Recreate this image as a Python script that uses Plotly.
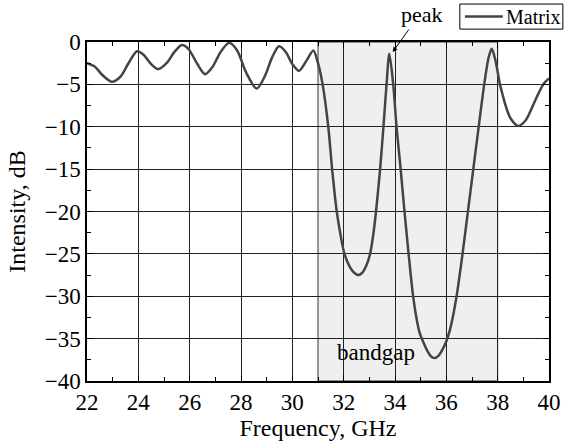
import plotly.graph_objects as go

freq = [22.0, 22.3, 22.6, 22.97, 23.3, 23.6, 23.95, 24.2, 24.5, 24.77, 25.1, 25.4, 25.69,
        25.95, 26.3, 26.6, 26.9, 27.2, 27.54, 27.85, 28.2, 28.61, 28.95, 29.2, 29.48, 29.75,
        30.0, 30.26, 30.55, 30.82, 31.0, 31.18, 31.4, 31.55, 31.73, 31.88, 32.03, 32.25, 32.4,
        32.57, 32.73, 32.88, 33.03, 33.15, 33.26, 33.42, 33.55, 33.67, 33.78, 33.93, 34.06,
        34.22, 34.37, 34.53, 34.69, 34.82, 34.95, 35.1, 35.27, 35.4, 35.53, 35.7, 35.85, 36.0,
        36.11, 36.25, 36.42, 36.64, 36.87, 37.08, 37.29, 37.5, 37.65, 37.77, 37.9, 38.09,
        38.19, 38.32, 38.5, 38.8, 39.1, 39.36, 39.6, 39.8, 40.0]
intensity = [-2.5, -2.9, -3.9, -4.7, -4.1, -2.6, -1.1, -1.5, -2.6, -3.2, -2.5, -1.2, -0.35,
             -0.8, -2.6, -3.8, -2.9, -1.2, -0.1, -1.0, -3.6, -5.5, -3.9, -1.9, -0.5, -1.2,
             -2.6, -3.4, -2.2, -1.0, -2.5, -5.0, -10.0, -15.0, -20.0, -22.8, -25.0, -26.6, -27.2,
             -27.5, -27.2, -26.4, -25.0, -22.8, -20.0, -15.0, -10.0, -5.0, -1.4, -5.0, -10.0,
             -15.0, -20.0, -25.0, -29.6, -32.3, -34.2, -35.4, -36.5, -37.1, -37.3, -37.0, -36.3, -35.3,
             -34.3, -32.5, -29.6, -24.8, -19.3, -14.3, -9.3, -4.5, -1.8, -0.8, -2.0, -5.0,
             -6.2, -7.6, -9.0, -9.9, -9.2, -7.6, -6.0, -4.9, -4.3]

x_ticks = [22, 24, 26, 28, 30, 32, 34, 36, 38, 40]
y_ticks = [0, -5, -10, -15, -20, -25, -30, -35, -40]
band_start, band_end = 31, 38

FONT = "Liberation Serif"
LINE_COLOR = "#444444"

fig = go.Figure()
fig.add_trace(go.Scatter(x=freq, y=intensity, mode="lines", name="Matrix", showlegend=False,
                         line=dict(color=LINE_COLOR, width=2.5, shape="spline", smoothing=0.8)))

fig.add_shape(type="rect", xref="x", yref="y", x0=band_start, x1=band_end, y0=-40, y1=0,
              fillcolor="#efefef", line=dict(color="#333333", width=1), layer="below")

fig.add_annotation(x=33.26, y=-36.6, xref="x", yref="y", text="bandgap", showarrow=False,
                   font=dict(family=FONT, size=23, color="black"))
# peak label and arrow
fig.add_annotation(x=0.725, y=1.080, xref="paper", yref="paper", text="peak", showarrow=False,
                   xanchor="center", yanchor="middle",
                   font=dict(family=FONT, size=22, color="black"))
fig.add_annotation(x=33.91, y=-1.18, xref="x", yref="y", text="", showarrow=True,
                   ax=34.58, ay=1.65, axref="x", ayref="y",
                   arrowhead=2, arrowsize=1, arrowwidth=1, arrowcolor="black")

# manual legend box (top right, outside the plot)
fig.add_shape(type="rect", xref="paper", yref="paper", x0=0.807, x1=1.030, y0=1.038, y1=1.112,
              fillcolor="white", line=dict(color="black", width=1))
fig.add_shape(type="line", xref="paper", yref="paper", x0=0.818, x1=0.900, y0=1.075, y1=1.075,
              line=dict(color=LINE_COLOR, width=2.5))
fig.add_annotation(x=0.903, y=1.075, xref="paper", yref="paper", text="Matrix", showarrow=False,
                   xanchor="left", yanchor="middle", font=dict(family=FONT, size=20, color="black"))

axis_common = dict(showline=True, linecolor="black", linewidth=1.5, mirror="ticks",
                   ticks="inside", ticklen=6, tickcolor="black",
                   showgrid=True, gridcolor="#222222", gridwidth=1, zeroline=False,
                   tickfont=dict(family=FONT, size=23, color="black"))

fig.update_xaxes(range=[22, 40], tickvals=x_ticks,
                 minor=dict(dtick=1, ticks="inside", ticklen=4, tickcolor="black", showgrid=False),
                 title=dict(text="Frequency, GHz", font=dict(family=FONT, size=24, color="black"),
                            standoff=4),
                 **axis_common)
fig.update_yaxes(range=[-40, 0], tickvals=y_ticks,
                 minor=dict(dtick=2.5, ticks="inside", ticklen=4, tickcolor="black", showgrid=False),
                 title=dict(text="Intensity, dB", font=dict(family=FONT, size=24, color="black"),
                            standoff=12),
                 **axis_common)

fig.update_layout(width=565, height=448, margin=dict(l=87, r=16, t=42, b=67, autoexpand=False),
                  plot_bgcolor="white", paper_bgcolor="white",
                  font=dict(family=FONT, size=20, color="black"),
                  showlegend=False)

fig.write_html("out.html")
